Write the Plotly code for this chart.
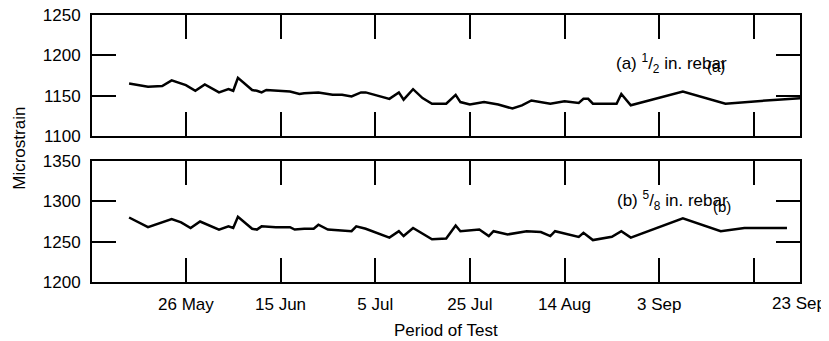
import plotly.graph_objects as go

# (a) 1/2 in. rebar
dates_a = ["2000-05-14", "2000-05-18", "2000-05-21", "2000-05-23", "2000-05-26", "2000-05-28",
           "2000-05-30", "2000-06-02", "2000-06-04", "2000-06-05", "2000-06-06", "2000-06-09",
           "2000-06-10", "2000-06-11", "2000-06-12", "2000-06-16", "2000-06-17", "2000-06-19",
           "2000-06-20", "2000-06-23", "2000-06-26", "2000-06-28", "2000-06-30", "2000-07-02",
           "2000-07-03", "2000-07-08", "2000-07-10", "2000-07-11", "2000-07-13", "2000-07-15",
           "2000-07-17", "2000-07-20", "2000-07-22", "2000-07-23", "2000-07-25", "2000-07-28",
           "2000-07-31", "2000-08-03", "2000-08-05", "2000-08-07", "2000-08-11", "2000-08-14",
           "2000-08-17", "2000-08-18", "2000-08-19", "2000-08-20", "2000-08-25", "2000-08-26",
           "2000-08-28", "2000-09-08", "2000-09-17", "2000-09-28", "2000-10-03"]
strain_a = [1165, 1161, 1162, 1169, 1163, 1156,
            1164, 1154, 1158, 1156, 1172, 1157,
            1156, 1154, 1157, 1156, 1155, 1152,
            1153, 1154, 1151, 1151, 1149, 1154,
            1154, 1146, 1154, 1145, 1158, 1147,
            1140, 1140, 1151, 1142, 1139, 1142,
            1139, 1134, 1138, 1144, 1140, 1143,
            1141, 1146, 1146, 1140, 1140, 1152,
            1138, 1155, 1140, 1145, 1147]

# (b) 5/8 in. rebar
dates_b = ["2000-05-14", "2000-05-18", "2000-05-23", "2000-05-25", "2000-05-27", "2000-05-29",
           "2000-06-02", "2000-06-04", "2000-06-05", "2000-06-06", "2000-06-09", "2000-06-10",
           "2000-06-11", "2000-06-14", "2000-06-17", "2000-06-18", "2000-06-20", "2000-06-22",
           "2000-06-23", "2000-06-25", "2000-06-30", "2000-07-01", "2000-07-03", "2000-07-08",
           "2000-07-10", "2000-07-11", "2000-07-13", "2000-07-15", "2000-07-17", "2000-07-20",
           "2000-07-22", "2000-07-23", "2000-07-27", "2000-07-29", "2000-07-30", "2000-08-02",
           "2000-08-06", "2000-08-09", "2000-08-11", "2000-08-12", "2000-08-17", "2000-08-18",
           "2000-08-20", "2000-08-24", "2000-08-26", "2000-08-28", "2000-09-08", "2000-09-16",
           "2000-09-21", "2000-09-30"]
strain_b = [1280, 1268, 1278, 1274, 1267, 1275,
            1265, 1269, 1267, 1281, 1266, 1265,
            1269, 1268, 1268, 1265, 1266, 1266,
            1271, 1265, 1263, 1269, 1266, 1255,
            1263, 1257, 1267, 1260, 1253, 1254,
            1270, 1263, 1265, 1257, 1263, 1259,
            1263, 1262, 1257, 1263, 1256, 1261,
            1252, 1256, 1263, 1255, 1279, 1263,
            1267, 1267]

tick_dates = ["2000-05-26", "2000-06-15", "2000-07-05", "2000-07-25",
              "2000-08-14", "2000-09-03", "2000-09-23"]
tick_labels = ["26 May", "15 Jun", "5 Jul", "25 Jul", "14 Aug", "3 Sep", "23 Sep"]

FONT = "Liberation Sans, Arial, Helvetica, sans-serif"
x_range = ["2000-05-06 04:00", "2000-10-02 18:00"]

fig = go.Figure()
fig.add_trace(go.Scatter(x=dates_a, y=strain_a, mode="lines", xaxis="x", yaxis="y",
                         line=dict(color="black", width=2.5), showlegend=False))
fig.add_trace(go.Scatter(x=dates_b, y=strain_b, mode="lines", xaxis="x2", yaxis="y2",
                         line=dict(color="black", width=2.5), showlegend=False))

axis_style = dict(showline=True, linecolor="black", linewidth=2, mirror="ticks",
                  ticks="inside", ticklen=24, tickwidth=2, tickcolor="black",
                  showgrid=False, zeroline=False, automargin=False,
                  ticklabeloverflow="allow")

# page body has an 8px margin, so the figure is sized/offset to land the frame in place
fig.update_layout(
    width=821, height=333,
    margin=dict(l=84, r=29, t=7, b=59),
    plot_bgcolor="white", paper_bgcolor="white",
    font=dict(family=FONT, size=17, color="black"),
    xaxis=dict(axis_style, domain=[0, 1], anchor="y", type="date", range=x_range,
               tickvals=tick_dates, showticklabels=False),
    yaxis=dict(axis_style, domain=[0.547, 1], anchor="x", range=[1100, 1250],
               tickvals=[1100, 1150, 1200, 1250], ticklabelstandoff=6),
    xaxis2=dict(axis_style, domain=[0, 1], anchor="y2", type="date", range=x_range,
                tickvals=tick_dates, ticktext=tick_labels[:-1] + [""],
                ticklabelstandoff=6),
    yaxis2=dict(axis_style, domain=[0, 0.453], anchor="x2", range=[1200, 1350],
                tickvals=[1200, 1250, 1300, 1350], ticklabelstandoff=6),
)

# last date label sits at the right edge of the frame
fig.add_annotation(text=tick_labels[-1], xref="paper", yref="paper", x=0.9986, y=-0.079,
                   xanchor="center", yanchor="middle", showarrow=False, font=dict(size=17))

fig.add_annotation(text="Period of Test", xref="paper", yref="paper", x=0.5, y=-0.18,
                   xanchor="center", yanchor="middle", showarrow=False, font=dict(size=17))
fig.add_annotation(text="Microstrain", xref="paper", yref="paper", x=-0.102, y=0.502,
                   textangle=-90, xanchor="center", yanchor="middle", showarrow=False,
                   font=dict(size=17))

fig.add_annotation(text="(a) <sup>1</sup>/<sub>2</sub> in. rebar", xref="paper", yref="y",
                   x=0.737, y=1190, xanchor="left", yanchor="middle", showarrow=False,
                   font=dict(size=17))
fig.add_annotation(text="(a)", xref="paper", yref="y", x=0.881, y=1186,
                   xanchor="center", yanchor="middle", showarrow=False, font=dict(size=15))
fig.add_annotation(text="(b) <sup>5</sup>/<sub>8</sub> in. rebar", xref="paper", yref="y2",
                   x=0.739, y=1301, xanchor="left", yanchor="middle", showarrow=False,
                   font=dict(size=17))
fig.add_annotation(text="(b)", xref="paper", yref="y2", x=0.890, y=1294,
                   xanchor="center", yanchor="middle", showarrow=False, font=dict(size=15))

fig.write_html("out.html")
